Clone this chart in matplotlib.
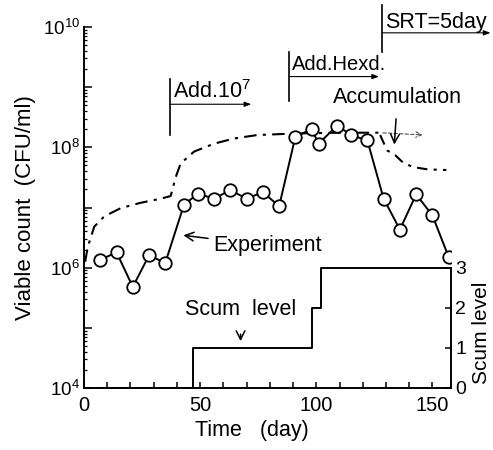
import matplotlib.pyplot as plt
from matplotlib.ticker import FixedLocator, NullFormatter

plt.rcParams['font.family'] = ['Liberation Sans', 'DejaVu Sans']
plt.rcParams['mathtext.fontset'] = 'custom'
plt.rcParams['mathtext.rm'] = 'Liberation Sans'
plt.rcParams['mathtext.it'] = 'Liberation Sans'
plt.rcParams['mathtext.default'] = 'regular'

# viable count in the reactor (CFU/ml), weekly samples
exp_days = [7, 14, 21, 28, 35, 43, 49, 56, 63, 70, 77, 84, 91, 98, 101,
            109, 115, 122, 129, 136, 143, 150, 157]
exp_count = [1.35e6, 1.8e6, 4.8e5, 1.6e6, 1.2e6, 1.1e7, 1.7e7, 1.4e7, 1.95e7,
             1.4e7, 1.8e7, 1.05e7, 1.5e8, 2.0e8, 1.15e8, 2.3e8, 1.6e8, 1.3e8,
             1.4e7, 4.3e6, 1.65e7, 7.4e6, 1.5e6]

# accumulated count (calculated)
acc_days = [0.5, 1.6, 4.4, 8.7, 15.9, 24.5, 33, 37.3, 39.5, 41.6, 47.4, 56,
            64.5, 74.5, 91, 110, 127.5]
acc_count = [1.25e6, 2.2e6, 4.8e6, 7.1e6, 9.8e6, 1.2e7, 1.4e7, 1.55e7, 3.2e7,
             5.4e7, 8.5e7, 1.15e8, 1.4e8, 1.6e8, 1.7e8, 1.75e8, 1.75e8]
acc_srt_days = [127.5, 130.5, 134, 137.3, 141.6, 148, 156]
acc_srt_count = [1.6e8, 8.9e7, 7.4e7, 5.6e7, 4.7e7, 4.3e7, 4.2e7]

# scum level (right axis)
scum_days = [0, 47, 98, 102, 158]
scum_level = [0, 1, 2, 3, 3]

fig = plt.figure(figsize=(4.93, 4.5), dpi=100)
ax = fig.add_axes([84 / 493, 62 / 450, 367 / 493, 361 / 450])

ax.set_yscale('log')
ax.set_xlim(0, 158)
ax.set_ylim(1e4, 1e10)

ax.plot(acc_days, acc_count, color='k', lw=1.5, ls=(0, (6, 3, 1.5, 3)))
ax.plot(acc_srt_days, acc_srt_count, color='k', lw=1.5, ls=(0, (5, 3, 1.5, 3)))
ax.annotate('', xy=(147, 1.6e8), xytext=(127.5, 1.75e8),
            arrowprops=dict(arrowstyle='->', lw=0.8, ls=(0, (3, 2)), color='0.3'))
ax.plot(exp_days, exp_count, color='k', lw=1.4, marker='o', ms=9,
        mfc='white', mec='k', mew=1.3, zorder=3)

# axes styling
for s in ['top', 'right']:
    ax.spines[s].set_visible(False)
ax.spines['left'].set_linewidth(1.4)
ax.spines['bottom'].set_linewidth(1.4)

ax.yaxis.set_major_locator(FixedLocator([1e4, 1e5, 1e6, 1e7, 1e8, 1e9, 1e10]))
ax.set_yticklabels(['$10^4$', '', '$10^6$', '', '$10^8$', '', '$10^{10}$'])
ax.yaxis.set_minor_locator(FixedLocator([m * 10 ** e for e in range(4, 10)
                                         for m in range(2, 10)]))
ax.yaxis.set_minor_formatter(NullFormatter())
ax.tick_params(axis='y', which='major', direction='in', length=6, width=1.1,
               labelsize=13.5, pad=3)
ax.tick_params(axis='y', which='minor', direction='in', length=2.5, width=0.9)

ax.set_xticks([0, 50, 100, 150])
ax.set_xticks(range(10, 160, 10), minor=True)
ax.tick_params(axis='x', which='both', direction='in', length=4, width=1.1,
               labelsize=14.5, pad=6)

ax.set_xlabel('Time   (day)', fontsize=15.5)
ax.xaxis.set_label_coords(0.458, -0.09)
ax.set_ylabel('Viable count  (CFU/ml)', fontsize=16)
ax.yaxis.set_label_coords(-0.13, 0.50)

# scum level on a twin axis
ax2 = ax.twinx()
ax2.set_ylim(0, 9)
ax2.step(scum_days, scum_level, where='post', color='k', lw=1.4)
for s in ['top', 'left', 'bottom']:
    ax2.spines[s].set_visible(False)
ax2.spines['right'].set_bounds(0, 3)
ax2.spines['right'].set_linewidth(1.4)
ax2.set_yticks([0, 1, 2, 3])
ax2.tick_params(axis='y', direction='in', length=4, width=1.1, labelsize=14, pad=3)
ax2.set_ylabel('Scum level', fontsize=15)
ax2.yaxis.set_label_coords(1.057, 0.152)

# events
def event(day, y0, y1, text, ytext, yarrow, xend, size):
    ax.plot([day, day], [y0, y1], color='k', lw=1.2, clip_on=False)
    ax.text(day + 1.3, ytext, text, fontsize=size, va='center', ha='left')
    ax.annotate('', xy=(xend, yarrow), xytext=(day, yarrow),
                annotation_clip=False,
                arrowprops=dict(arrowstyle='-|>,head_length=0.4,head_width=0.15',
                                lw=0.8, color='k', shrinkA=0, shrinkB=0))

event(37, 1.35e9, 1.6e8, 'Add.$10^7$', 8.5e8, 5.2e8, 72, 15.5)
event(88.4, 3.8e9, 6.0e8, 'Add.Hexd.', 2.4e9, 1.5e9, 127, 14.5)
event(128.3, 2.3e10, 3.8e9, 'SRT=5day', 1.2e10, 8.0e9, 175, 15.5)

ax.annotate('Accumulation', xy=(133.5, 1.0e8), xytext=(135, 6.8e8),
            fontsize=15.5, ha='center', va='center',
            arrowprops=dict(arrowstyle='->', lw=1.1, color='k', shrinkA=6))
ax.annotate('Experiment', xy=(41.6, 3.5e6), xytext=(55.8, 2.3e6),
            fontsize=15.5, ha='left', va='center',
            arrowprops=dict(arrowstyle='->', lw=1.1, color='k', shrinkA=2))
ax.annotate('Scum  level', xy=(67.4, 5.4e4), xytext=(67.4, 2.0e5),
            fontsize=15.5, ha='center', va='center',
            arrowprops=dict(arrowstyle='->', lw=1.1, color='k', shrinkA=8))

fig.savefig('out.png', dpi=100)
